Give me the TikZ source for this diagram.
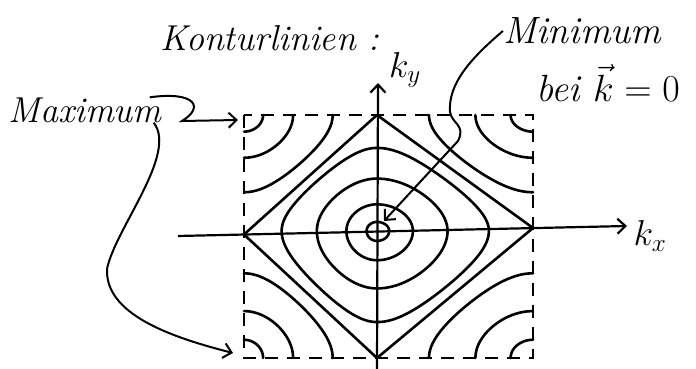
\RequirePackage{fix-cm}
\documentclass[tikz,border=0pt]{standalone}
\usetikzlibrary{arrows.meta}
\tikzset{
  hand/.style={font=\fontsize{36}{40}\selectfont\itshape, inner sep=0pt},
  bighand/.style={hand, font=\fontsize{38}{42}\selectfont\itshape},
  level/.style={line width=2.6pt, line cap=round, line join=round},
  zone/.style={line width=2pt, dash pattern=on 13pt off 9pt},
  axis/.style={line width=2.2pt, -{Straight Barb[length=8pt,width=15pt]}},
  pointer/.style={line width=2pt, -{Straight Barb[length=8pt,width=15pt]}},
}
% quarter of the level line cos u + cos v = #1 (u,v in degrees)
\newcommand{\quarterline}[1]{%
  plot[domain=0:90, samples=30, smooth, variable=\ang]
    ({acos(#1-1)*cos(\ang)}, {acos(min(1,#1-cos(acos(#1-1)*cos(\ang))))})}

\begin{document}
\begin{tikzpicture}[x=1pt, y=1pt]
  \useasboundingbox (0,0) rectangle (696,369);
  % zone, corners and centre
  \coordinate (O) at (377,138);
  \coordinate (TL) at (244,254);
  \coordinate (TR) at (533,254);
  \coordinate (BL) at (244,11);
  \coordinate (BR) at (533,11);
  \draw[zone] (TL) rectangle (BR);
  % axes
  \coordinate (xstart) at (178,133);
  \coordinate (xend) at (627,143);
  \coordinate (ystart) at (377,0);
  \coordinate (yend) at (378,286);
  \draw[axis] (xstart) -- (xend);
  \draw[axis] (ystart) -- (yend);
  \node[hand] (kx) at (650,133) {$k_x$};
  \node[hand] (ky) at (405,299) {$k_y$};
  % diamond E = 0
  \coordinate (dtop) at (377,254);
  \coordinate (dright) at (533,141);
  \coordinate (dbot) at (377,11);
  \coordinate (dleft) at (244,134.5);
  \draw[level] (dtop) -- (dright) -- (dbot) -- (dleft) -- cycle;
  % closed lines round the centre
  \foreach \sx/\sy in {0.867/0.644, -0.739/0.644, -0.739/-0.706, 0.867/-0.706}
    \foreach \lev in {1.97, 1.75, 1.15, 0.37}
      \draw[level, shift={(O)}, xscale=\sx, yscale=\sy] \quarterline{\lev};
  % lines round the corners
  \foreach \cn/\sx/\sy in {TL/0.739/-0.644, TR/-0.867/-0.644, BL/0.739/0.706, BR/-0.867/0.706}
    \foreach \lev in {1.9, 1.4, 0.5}
      \draw[level, shift={(\cn)}, xscale=\sx, yscale=\sy] \quarterline{\lev};
  % labels
  \node[hand] (title) at (270,331) {Konturlinien :};
  \node[bighand] (minlbl) at (582,338) {Minimum};
  \node[bighand] (beilbl) at (608,286) {bei $\vec k=0$};
  \node[hand] (maxlbl) at (85,259) {Maximum};
  \coordinate (mintip) at (384,148);
  \coordinate (maxtop) at (238,249);
  \coordinate (maxbot) at (233,16);
  \draw[pointer] (minlbl.west) .. controls (470,310) and (448,285) .. (450,257)
    .. controls (452,245) and (466,244) .. (458,228) -- (mintip);
  \draw[pointer] ([xshift=-12pt]maxlbl.north east) .. controls (195,278) and (205,262) .. (182,248)
    -- (maxtop);
  \draw[pointer] ([xshift=-8pt]maxlbl.south east) .. controls (178,215) and (115,140) .. (107,100)
    .. controls (105,55) and (170,32) .. (maxbot);
\end{tikzpicture}
\end{document}
